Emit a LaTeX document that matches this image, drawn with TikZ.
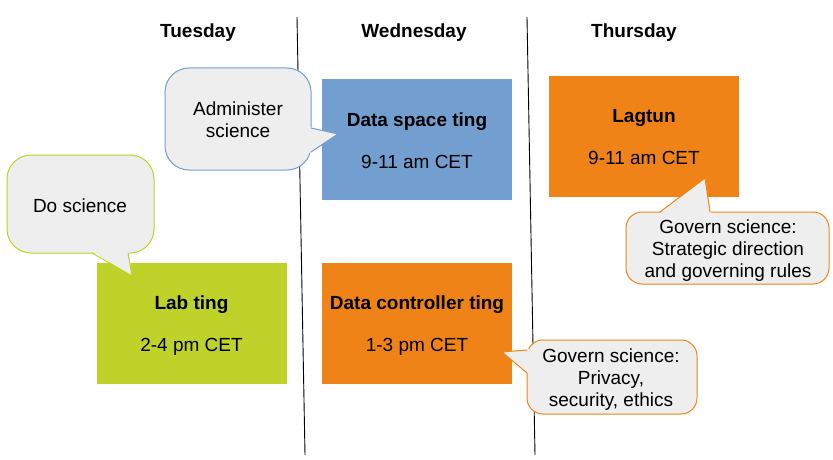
\documentclass[tikz,border=0pt]{standalone}
\usepackage{fontspec}
\setmainfont{Liberation Sans}
\definecolor{skyblue}{HTML}{729FCF}
\definecolor{tangerine}{HTML}{EF8318}
\definecolor{lime}{HTML}{BFD22A}
\definecolor{bubble}{HTML}{EEEEEE}
\tikzset{
  txt/.style={font=\fontsize{19}{22}\selectfont, align=center, inner sep=0pt},
  head/.style={txt, font=\fontsize{19}{22}\selectfont\bfseries},
  slot/.style={txt, minimum width=190pt, minimum height=121pt},
  divider/.style={black, line width=0.9pt},
  bubblebody/.style={fill=bubble, line width=1pt},
}
\begin{document}
\begin{tikzpicture}[x=1pt,y=-1pt]
\useasboundingbox (0,0) rectangle (833,460);

% day dividers
\coordinate (d1top) at (297,17);
\coordinate (d1bot) at (305,455);
\coordinate (d2top) at (527,17);
\coordinate (d2bot) at (535,455);
\draw[divider] (d1top) -- (d1bot);
\draw[divider] (d2top) -- (d2bot);

% day headings
\node[head] (tue) at (198,33) {Tuesday};
\node[head] (wed) at (414,33) {Wednesday};
\node[head] (thu) at (634,33) {Thursday};

% meeting slots
\node[slot, fill=skyblue] (dspace) at (417,139.5) {};
\node[txt] (dspacetxt) at (417,140.5) {\textbf{Data space ting}\\[20pt]9-11 am CET};
\node[slot, fill=tangerine] (lagtun) at (644,136.5) {};
\node[txt] (lagtuntxt) at (644,137.5) {\textbf{Lagtun}\\[20pt]9-11 am CET};
\node[slot, fill=lime] (lab) at (191.5,323.5) {};
\node[txt] (labtxt) at (191.5,326) {\textbf{Lab ting}\\[20pt]2-4 pm CET};
\node[slot, fill=tangerine] (dctrl) at (417,323.5) {};
\node[txt] (dctrltxt) at (417,326) {\textbf{Data controller ting}\\[20pt]1-3 pm CET};

% speech bubble: Administer science
\filldraw[bubblebody, draw=skyblue, rounded corners=24pt] (165,68) rectangle (311,170);
\fill[bubble] (309,127) -- (338,134) -- (309,153) -- cycle;
\draw[skyblue, line width=1pt, line join=round] (311,128) -- (338,134) -- (311,152);
\node[txt] (admin) at (238,120) {Administer\\science};

% speech bubble: Do science
\filldraw[bubblebody, draw=lime, rounded corners=24pt] (7,155) rectangle (154,253);
\fill[bubble] (91,251) -- (132,276) -- (129,251) -- cycle;
\draw[lime, line width=1pt, line join=round] (92,253) -- (132,276) -- (128,253);
\node[txt] (dosci) at (80,206) {Do science};

% speech bubble: strategic direction
\filldraw[bubblebody, draw=tangerine, rounded corners=16pt] (626,212) rectangle (829,284);
\fill[bubble] (659,214) -- (705,178) -- (711,214) -- cycle;
\draw[tangerine, line width=1pt, line join=round] (660,212) -- (705,178) -- (710,212);
\node[txt] (strat) at (728,251) {Govern science:\\Strategic direction\\and governing rules};

% speech bubble: privacy
\filldraw[bubblebody, draw=tangerine, rounded corners=16pt] (527,340) rectangle (697,414);
\fill[bubble] (529,349) -- (502,352) -- (529,374) -- cycle;
\draw[tangerine, line width=1pt, line join=round] (527,350) -- (502,352) -- (527,373);
\node[txt] (priv) at (611,380) {Govern science:\\Privacy,\\security, ethics};
\end{tikzpicture}
\end{document}
